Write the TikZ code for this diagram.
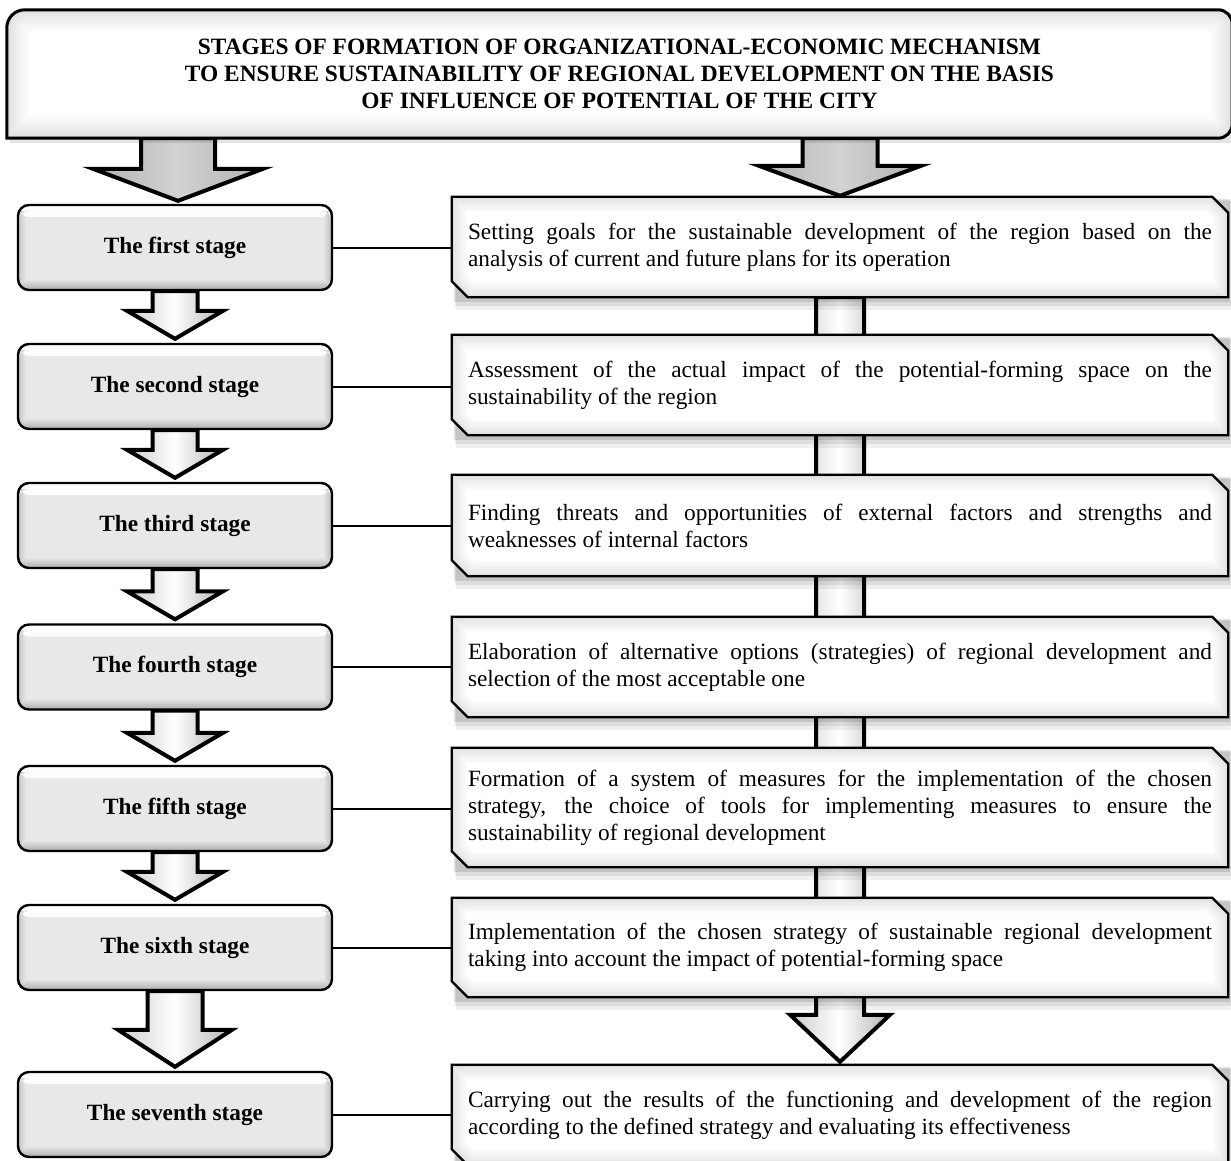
\documentclass[tikz,border=0pt]{standalone}
\usepackage{fontspec}
\setmainfont{Liberation Serif}
\usetikzlibrary{calc}
\pgfdeclarelayer{bgw}
\pgfdeclarelayer{arr}
\pgfdeclarelayer{box}
\pgfsetlayers{bgw,arr,box,main}
\newcommand\ppbb{path picture bounding box}
\newcommand\jtext[1]{\parbox{744pt}{\fontsize{23.3}{27}\selectfont #1}}
\tikzset{
  lbox/.style={draw=black, line width=2.4pt, rounded corners=11pt, fill=gray!18,
    minimum width=314pt, minimum height=85pt, inner sep=0pt,
    font=\fontsize{23.3}{27}\selectfont\bfseries,
    path picture={
      \shade[top color=white, bottom color=gray!18] (\ppbb.north west) rectangle ([yshift=-12pt]\ppbb.north east);
      \shade[left color=gray!45, right color=gray!18] (\ppbb.south west) rectangle ([xshift=8pt,yshift=-6pt]\ppbb.north west);
      \shade[left color=gray!18, right color=gray!55] ([xshift=-9pt,yshift=-6pt]\ppbb.north east) rectangle (\ppbb.south east);
      \shade[top color=gray!18, bottom color=gray!65] ([yshift=11pt]\ppbb.south west) rectangle (\ppbb.south east);
    }},
  rtext/.style={minimum width=776pt, inner xsep=16pt, inner ysep=0pt,
    font=\fontsize{23.3}{27}\selectfont},
  banner/.style={minimum width=1225pt, minimum height=128pt, inner sep=0pt, align=center,
    font=\fontsize{23.4}{27}\selectfont\bfseries},
  conn/.style={draw=black, line width=2pt},
  bigarrow/.style={draw=black, line width=4pt, line join=miter, left color=gray!60, right color=gray!62, middle color=gray!35},
  smallarrow/.style={draw=black, line width=4pt, line join=miter, left color=gray!40, right color=gray!60, middle color=white},
}
% right box outline: square top-left, chamfered top-right and bottom-left
\newcommand\rpath[1]{(#1.north west) -- ([xshift=-16pt]#1.north east) -- ([yshift=-16pt]#1.north east) -- (#1.south east) -- ([xshift=16pt]#1.south west) -- ([yshift=16pt]#1.south west) -- cycle}
\newcommand\rboxdraw[1]{%
  \fill[black,opacity=.06] ([xshift=4pt,yshift=-4pt]#1.north west) rectangle ([xshift=5pt,yshift=-13pt]#1.south east);
  \fill[black,opacity=.08] ([xshift=3pt,yshift=-3pt]#1.north west) rectangle ([xshift=3pt,yshift=-9pt]#1.south east);
  \fill[black,opacity=.11] ([xshift=2pt,yshift=-2pt]#1.north west) rectangle ([xshift=2pt,yshift=-5pt]#1.south east);
  \fill[white] \rpath{#1};
  \begin{scope}
    \clip \rpath{#1};
    \foreach \w/\c in {30/3,26/6,22/9,18/12,14/15,10/18,6/22,3/28} {\draw[gray!\c, line width=\w pt] \rpath{#1};}
  \end{scope}
  \draw[black, line width=2.3pt, line join=miter] \rpath{#1};
}
\newcommand\bpath{([yshift=-18pt]B.north west) arc[start angle=180,end angle=90,radius=18pt] -- ([xshift=-14pt]B.north east) arc[start angle=90,end angle=0,radius=14pt] -- ([yshift=14pt]B.south east) arc[start angle=0,end angle=-90,radius=14pt] -- (B.south west) -- cycle}
% down arrow: #1 top point, #2 tip point (same x), #3 half shaft, #4 half head, #5 head height, #6 style
\newcommand\darr[6]{%
  \path[#6] ($(#1)+(-#3,0)$) -- ($(#2)+(-#3,-#5)$) -- ($(#2)+(-#4,-#5)$) -- (#2) -- ($(#2)+(#4,-#5)$) -- ($(#2)+(#3,-#5)$) -- ($(#1)+(#3,0)$) -- cycle;}
\begin{document}
\hyphenpenalty=10000
\exhyphenpenalty=10000
\tolerance=9999
\begin{tikzpicture}[x=1pt,y=-1pt]
\useasboundingbox (0,0) rectangle (1231,1160);
\clip (0,0) rectangle (1231,1160);
\begin{pgfonlayer}{bgw}
\fill[white] (0,0) rectangle (1231,1160);
\end{pgfonlayer}

% title banner
\node[banner] (B) at (619.5,74) {STAGES OF FORMATION OF ORGANIZATIONAL-ECONOMIC MECHANISM\\TO ENSURE SUSTAINABILITY OF REGIONAL DEVELOPMENT ON THE BASIS\\OF INFLUENCE OF POTENTIAL OF THE CITY};

% left stage boxes
\node[lbox] (L1) at (175,247.5) {The first stage};
\node[lbox] (L2) at (175,386.5) {The second stage};
\node[lbox] (L3) at (175,525.5) {The third stage};
\node[lbox] (L4) at (175,667) {The fourth stage};
\node[lbox] (L5) at (175,808.5) {The fifth stage};
\node[lbox] (L6) at (175,947.5) {The sixth stage};
\node[lbox] (L7) at (175,1114.5) {The seventh stage};

% right description boxes
\node[rtext, minimum height=100pt] (R1) at (840,247) {\jtext{Setting goals for the sustainable development of the region based on the\linebreak analysis of current and future plans for its operation}};
\node[rtext, minimum height=100pt] (R2) at (840,385) {\jtext{Assessment of the actual impact of the potential-forming space on the\linebreak sustainability of the region}};
\node[rtext, minimum height=101pt] (R3) at (840,525.5) {\jtext{Finding threats and opportunities of external factors and strengths and\linebreak weaknesses of internal factors}};
\node[rtext, minimum height=100pt] (R4) at (840,667) {\jtext{Elaboration of alternative options (strategies) of regional development and\linebreak selection of the most acceptable one}};
\node[rtext, minimum height=119pt] (R5) at (840,807.5) {\jtext{Formation of a system of measures for the implementation of the chosen\linebreak strategy, the choice of tools for implementing measures to ensure the\linebreak sustainability of regional development}};
\node[rtext, minimum height=99pt] (R6) at (840,947.5) {\jtext{Implementation of the chosen strategy of sustainable regional development\linebreak taking into account the impact of potential-forming space}};
\node[rtext, minimum height=100pt] (R7) at (840,1115) {\jtext{Carrying out the results of the functioning and development of the region\linebreak according to the defined strategy and evaluating its effectiveness}};

% shapes of banner and right boxes
\begin{pgfonlayer}{box}
  \fill[black,opacity=.10] ([xshift=3pt,yshift=-3pt]B.north west) rectangle ([xshift=3pt,yshift=-5pt]B.south east);
  \fill[white] \bpath;
  \begin{scope}
    \clip \bpath;
    \foreach \w/\c in {44/3,38/6,32/9,26/12,20/15,14/18,8/22,4/28} {\draw[gray!\c, line width=\w pt] \bpath;}
  \end{scope}
  \draw[black, line width=3pt] \bpath;
  \rboxdraw{R1}\rboxdraw{R2}\rboxdraw{R3}\rboxdraw{R4}\rboxdraw{R5}\rboxdraw{R6}\rboxdraw{R7}
\end{pgfonlayer}

% arrows
\begin{pgfonlayer}{arr}
  \coordinate (a0t) at ([xshift=3pt]L1.north |- B.south);
  \coordinate (a0b) at ([xshift=3pt,yshift=3pt]L1.north);
  \darr{a0t}{a0b}{37}{85}{32}{bigarrow}
  \coordinate (b0t) at (R1.north |- B.south);
  \coordinate (b0b) at ([yshift=1pt]R1.north);
  \darr{b0t}{b0b}{37.5}{81}{30}{bigarrow}
  \coordinate (t1) at ([yshift=4pt]L2.north);
  \coordinate (t2) at ([yshift=4pt]L3.north);
  \coordinate (t3) at ([yshift=4pt]L4.north);
  \coordinate (t4) at ([yshift=4pt]L5.north);
  \coordinate (t5) at ([yshift=4pt]L6.north);
  \coordinate (t6) at ([yshift=4pt]L7.north);
  \darr{L1.south}{t1}{22.5}{48}{28}{smallarrow}
  \darr{L2.south}{t2}{22.5}{48}{28}{smallarrow}
  \darr{L3.south}{t3}{22.5}{48}{28}{smallarrow}
  \darr{L4.south}{t4}{22.5}{48}{28}{smallarrow}
  \darr{L5.south}{t5}{22.5}{48}{28}{smallarrow}
  \darr{L6.south}{t6}{27.5}{57}{37}{smallarrow}
  \coordinate (r7) at ([yshift=3pt]R7.north);
  \darr{R1.south}{r7}{24}{50}{47}{smallarrow}
\end{pgfonlayer}

% connectors
\draw[conn] (L1.east) -- (R1.west |- L1.east);
\draw[conn] (L2.east) -- (R2.west |- L2.east);
\draw[conn] (L3.east) -- (R3.west |- L3.east);
\draw[conn] (L4.east) -- (R4.west |- L4.east);
\draw[conn] (L5.east) -- (R5.west |- L5.east);
\draw[conn] (L6.east) -- (R6.west |- L6.east);
\draw[conn] (L7.east) -- (R7.west |- L7.east);
\end{tikzpicture}
\end{document}
